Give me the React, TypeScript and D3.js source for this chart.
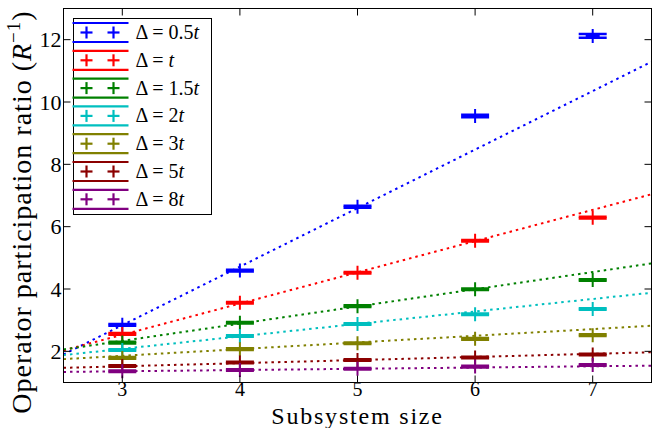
import React from "react";
import * as d3 from "d3";

const sizes = [3, 4, 5, 6, 7];
const deltaCoef = ["0.5", "", "1.5", "2", "3", "5", "8"];
const colors = ["#0000ff", "#ff0000", "#008000", "#00bfbf", "#808000", "#8b0000", "#800080"];

const series05 = [2.85, 4.59, 6.64, 9.55, 12.12];
const series1 = [2.56, 3.56, 4.52, 5.55, 6.29];
const series15 = [2.28, 2.92, 3.45, 3.99, 4.29];
const series2 = [2.04, 2.49, 2.88, 3.19, 3.36];
const series3 = [1.79, 2.07, 2.26, 2.4, 2.52];
const series5 = [1.53, 1.64, 1.72, 1.8, 1.9];
const series8 = [1.36, 1.4, 1.44, 1.51, 1.56];
const allSeries = [series05, series1, series15, series2, series3, series5, series8];

const errors05 = [0.03, 0.03, 0.03, 0.04, 0.06];
const errorsOther = [0.025, 0.025, 0.025, 0.025, 0.025];
const allErrors = [errors05, errorsOther, errorsOther, errorsOther, errorsOther, errorsOther, errorsOther];

// linear fit lines: value at x = 2.5 and x = 7.5
const fitStart = [1.9, 2.03, 2.06, 1.88, 1.75, 1.47, 1.34];
const fitEnd = [11.29, 7.04, 4.82, 3.88, 2.82, 1.97, 1.54];
const fitX = [2.5, 7.5];

const xTicks = [3, 4, 5, 6, 7];
const yTicks = [2, 4, 6, 8, 10, 12];

const W = 656;
const H = 428;
const L = 63.5;
const R = 651.5;
const T = 8.5;
const B = 382.5;
const FONT = "'Liberation Serif', 'DejaVu Serif', serif";

export default function App() {
  const x = d3.scaleLinear().domain([2.5, 7.5]).range([L, R]);
  const y = d3.scaleLinear().domain([1, 13]).range([B, T]);
  const line = d3
    .line<[number, number]>()
    .x((d) => x(d[0]))
    .y((d) => y(d[1]));
  const capHalf = 14;
  const plusHalf = 7;
  const tickLen = 7;

  const legX = 73.5;
  const legY = 18.5;
  const legW = 138;
  const legH = 196;
  const rowH = 27.8;

  return (
    <svg width={W} height={H} style={{ position: "absolute", left: 0, top: 0, background: "#fff" }}>
      <defs>
        <clipPath id="plotclip">
          <rect x={L} y={T} width={R - L} height={B - T} />
        </clipPath>
      </defs>
      <rect x={0} y={0} width={W} height={H} fill="#fff" />
      <g clipPath="url(#plotclip)">
        {allSeries.map((vals, si) => (
          <g key={si}>
            {vals.map((v, i) => {
              const cx = x(sizes[i]);
              const e = allErrors[si][i];
              return (
                <g key={i} stroke={colors[si]} fill="none">
                  <line x1={cx} x2={cx} y1={y(v + e)} y2={y(v - e)} strokeWidth={1.5} />
                  <line x1={cx - capHalf} x2={cx + capHalf} y1={y(v + e)} y2={y(v + e)} strokeWidth={2.5} />
                  <line x1={cx - capHalf} x2={cx + capHalf} y1={y(v - e)} y2={y(v - e)} strokeWidth={2.5} />
                  <line x1={cx} x2={cx} y1={y(v) - plusHalf} y2={y(v) + plusHalf} strokeWidth={2} />
                  <line x1={cx - plusHalf} x2={cx + plusHalf} y1={y(v)} y2={y(v)} strokeWidth={2} />
                </g>
              );
            })}
            <path
              d={line([
                [fitX[0], fitStart[si]],
                [fitX[1], fitEnd[si]],
              ]) as string}
              stroke={colors[si]}
              strokeWidth={2}
              strokeDasharray="2.5,4"
              fill="none"
            />
          </g>
        ))}
      </g>

      {/* ticks */}
      <g stroke="#000" strokeWidth={1}>
        {xTicks.map((t) => (
          <g key={"xt" + t}>
            <line x1={x(t)} x2={x(t)} y1={B} y2={B - tickLen} />
            <line x1={x(t)} x2={x(t)} y1={T} y2={T + tickLen} />
          </g>
        ))}
        {yTicks.map((t) => (
          <g key={"yt" + t}>
            <line x1={L} x2={L + tickLen} y1={y(t)} y2={y(t)} />
            <line x1={R} x2={R - tickLen} y1={y(t)} y2={y(t)} />
          </g>
        ))}
      </g>
      <rect x={L} y={T} width={R - L} height={B - T} fill="none" stroke="#000" strokeWidth={1} />

      {/* tick labels */}
      <g fontFamily={FONT} fontSize={20} fill="#000">
        {xTicks.map((t) => (
          <text key={"xl" + t} x={x(t)} y={396} textAnchor="middle">
            {t}
          </text>
        ))}
      </g>
      <g fontFamily={FONT} fontSize={22} fill="#000">
        {yTicks.map((t) => (
          <text key={"yl" + t} x={L - 2} y={y(t) + 7.5} textAnchor="end">
            {t}
          </text>
        ))}
      </g>

      {/* axis labels */}
      <text
        x={(L + R) / 2}
        y={423.5}
        textAnchor="middle"
        fontFamily={FONT}
        fontSize={24}
        letterSpacing={1.8}
        fill="#000"
      >
        Subsystem size
      </text>
      <text
        transform={`translate(31, 212) rotate(-90)`}
        textAnchor="middle"
        fontFamily={FONT}
        fontSize={28}
        letterSpacing={1}
        fill="#000"
      >
        Operator participation ratio (<tspan fontStyle="italic">R</tspan>
        <tspan fontSize={19} dy={-11}>−1</tspan>
        <tspan dy={11}>)</tspan>
      </text>

      {/* legend */}
      <rect x={legX} y={legY} width={legW} height={legH} fill="#fff" stroke="#000" strokeWidth={1} />
      {colors.map((c, i) => {
        const cy = legY + 14 + i * rowH;
        const hx0 = legX - 1;
        const hx1 = legX + 55;
        const m1 = legX + 13;
        const m2 = legX + 40;
        return (
          <g key={"lg" + i}>
            <g stroke={c} fill="none" strokeWidth={2.2}>
              <line x1={hx0} x2={hx1} y1={cy - 9.5} y2={cy - 9.5} />
              <line x1={hx0} x2={hx1} y1={cy + 9.5} y2={cy + 9.5} />
              {[m1, m2].map((mx, k) => (
                <g key={k}>
                  <line x1={mx} x2={mx} y1={cy - 6} y2={cy + 6} />
                  <line x1={mx - 6} x2={mx + 6} y1={cy} y2={cy} />
                </g>
              ))}
            </g>
            <text x={legX + 62} y={cy + 6.5} fontFamily={FONT} fontSize={20} fill="#000">
              {"Δ = " + deltaCoef[i]}
              <tspan fontStyle="italic">t</tspan>
            </text>
          </g>
        );
      })}
    </svg>
  );
}
